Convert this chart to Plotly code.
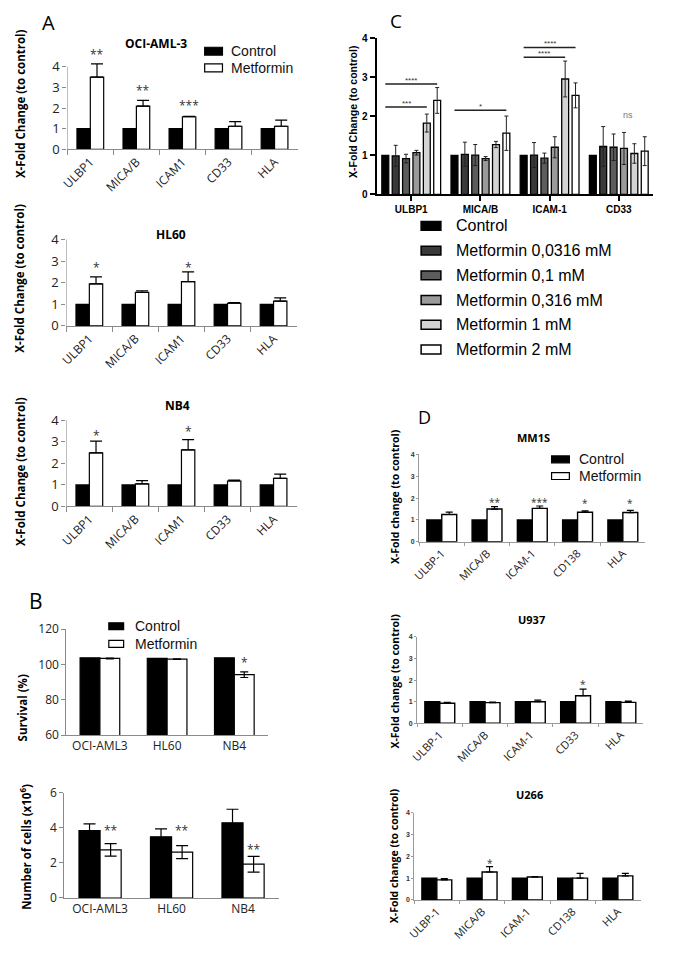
import plotly.graph_objects as go

W, H = 685, 958
OS = "Open Sans, sans-serif"
AR = "Liberation Sans, Arial, sans-serif"

# ---------------- Panel A data ----------------
a_cats = ["ULBP1", "MICA/B", "ICAM1", "CD33", "HLA"]
a_control = [1, 1, 1, 1, 1]
a_oci_met = [3.5, 2.1, 1.58, 1.12, 1.12]
a_oci_err = [0.65, 0.28, 0.02, 0.22, 0.30]
a_oci_sig = ["**", "**", "***", "", ""]
a_oci_sig_y = [4.76, 3.0, 2.29, 0, 0]
a_hl60_met = [1.95, 1.55, 2.05, 1.05, 1.15]
a_hl60_err = [0.32, 0.08, 0.45, 0.03, 0.15]
a_hl60_sig = ["*", "", "*", "", ""]
a_hl60_sig_y = [2.86, 0, 2.86, 0, 0]
a_nb4_met = [2.48, 1.05, 2.62, 1.18, 1.30]
a_nb4_err = [0.55, 0.15, 0.48, 0.04, 0.20]
a_nb4_sig = ["*", "", "*", "", ""]
a_nb4_sig_y = [3.43, 0, 3.63, 0, 0]
a_ticks = [0, 1, 2, 3, 4]

# ---------------- Panel B data ----------------
b_cats = ["OCI-AML3", "HL60", "NB4"]
b_surv_ctrl = [103.8, 103.4, 103.8]
b_surv_met = [103.4, 103.0, 94.2]
b_surv_met_err = [0.2, 0.2, 1.6]
b_surv_sig = ["", "", "*"]
b_surv_sig_y = [0, 0, 103.0]
b_cells_ctrl = [3.85, 3.50, 4.30]
b_cells_ctrl_err = [0.38, 0.45, 0.77]
b_cells_met = [2.75, 2.62, 1.93]
b_cells_met_err = [0.36, 0.37, 0.45]
b_cells_sig = ["**", "**", "**"]
b_cells_sig_y = [4.05, 4.05, 2.95]

# ---------------- Panel C data ----------------
c_cats = ["ULBP1", "MICA/B", "ICAM-1", "CD33"]
c_series = ["Control", "Metformin 0,0316 mM", "Metformin 0,1 mM",
            "Metformin 0,316 mM", "Metformin 1 mM", "Metformin 2 mM"]
c_colors = ["#000000", "#3a3a3a", "#5c5c5c", "#9a9a9a", "#d4d4d4", "#ffffff"]
c_values = [
    [1.0, 1.0, 1.0, 1.0],
    [0.99, 1.03, 1.01, 1.23],
    [0.92, 1.01, 0.93, 1.21],
    [1.07, 0.92, 1.21, 1.18],
    [1.83, 1.28, 2.96, 1.05],
    [2.41, 1.57, 2.54, 1.11],
]
c_errors = [
    [0, 0, 0, 0],
    [0.27, 0.31, 0.32, 0.51],
    [0.11, 0.27, 0.13, 0.34],
    [0.06, 0.05, 0.27, 0.41],
    [0.23, 0.08, 0.46, 0.25],
    [0.33, 0.44, 0.32, 0.37],
]
# significance brackets: (category index, from series, to series, y level, label)
c_sig_cat = [0, 0, 1, 2, 2]
c_sig_from = [0, 0, 0, 0, 0]
c_sig_to = [5, 4, 5, 5, 4]
c_sig_y = [2.83, 2.24, 2.16, 3.77, 3.52]
c_sig_txt = ["****", "***", "*", "****", "****"]

# ---------------- Panel D data ----------------
d_cats_mm1s = ["ULBP-1", "MICA/B", "ICAM-1", "CD138", "HLA"]
d_cats_u937 = ["ULBP-1", "MICA/B", "ICAM-1", "CD33", "HLA"]
d_cats_u266 = ["ULBP-1", "MICA/B", "ICAM-1", "CD138", "HLA"]
d_control = [1, 1, 1, 1, 1]
d_mm1s_met = [1.25, 1.50, 1.53, 1.35, 1.34]
d_mm1s_err = [0.11, 0.11, 0.11, 0.07, 0.10]
d_mm1s_sig = ["", "**", "***", "*", "*"]
d_mm1s_sig_y = [0, 1.97, 1.97, 1.92, 1.92]
d_u937_met = [0.93, 0.96, 1.00, 1.28, 0.97]
d_u937_err = [0.04, 0.02, 0.07, 0.30, 0.06]
d_u937_sig = ["", "", "", "*", ""]
d_u937_sig_y = [0, 0, 0, 1.97, 0]
d_u266_met = [0.92, 1.28, 1.05, 1.00, 1.10]
d_u266_err = [0.06, 0.25, 0.02, 0.22, 0.12]
d_u266_sig = ["", "*", "", "", ""]
d_u266_sig_y = [0, 1.83, 0, 0, 0]

# ---------------------------------------------------------------
def xd(l, r):
    return [l / W, r / W]


def yd(t, b):
    return [1 - b / H, 1 - t / H]


def px(x):
    return x / W


def py(y):
    return 1 - y / H


fig = go.Figure()
layout = dict(width=W, height=H, margin=dict(l=0, r=0, t=0, b=0),
              paper_bgcolor="white", plot_bgcolor="rgba(0,0,0,0)",
              showlegend=False, barmode="group")
annotations = []
shapes = []


def ax_name(n, letter):
    return f"{letter}axis" + ("" if n == 1 else str(n))


def ref(n, letter):
    return letter + ("" if n == 1 else str(n))


def add_axes(n, xdom, ydom, xopts, yopts):
    layout[ax_name(n, "x")] = dict(domain=xdom, anchor=ref(n, "y"), showgrid=False,
                                   zeroline=False, type="category", **xopts)
    layout[ax_name(n, "y")] = dict(domain=ydom, anchor=ref(n, "x"), showgrid=False,
                                   zeroline=False, **yopts)


def two_bars(n, cats, ctrl, met, met_err, w, ctrl_err=None, sym=False, cap=6, lw=1.2):
    fig.add_trace(go.Bar(x=cats, y=ctrl, offset=-w, width=w, xaxis=ref(n, "x"), yaxis=ref(n, "y"),
                         marker=dict(color="black", line=dict(color="black", width=lw)),
                         error_y=(dict(type="data", array=ctrl_err, visible=True, color="black",
                                       thickness=1.2, width=cap) if ctrl_err else None),
                         name="Control"))
    ey = dict(type="data", array=met_err, visible=True, color="black", thickness=1.2, width=cap)
    if not sym:
        ey["symmetric"] = False
        ey["arrayminus"] = [0] * len(met_err)
    fig.add_trace(go.Bar(x=cats, y=met, offset=0, width=w, xaxis=ref(n, "x"), yaxis=ref(n, "y"),
                         marker=dict(color="white", line=dict(color="black", width=lw)),
                         error_y=ey, name="Metformin"))


def stars(n, sig, sig_y, xoff, size=12):
    for i, (s, y) in enumerate(zip(sig, sig_y)):
        if s:
            annotations.append(dict(x=i + xoff, y=y, xref=ref(n, "x"), yref=ref(n, "y"),
                                    text=s, showarrow=False, yanchor="middle", yshift=-3,
                                    font=dict(family=OS, size=size, color="#333")))


def text(x, y, s, size, family=OS, bold=False, angle=0, xanchor="center", color="black"):
    annotations.append(dict(x=px(x), y=py(y), xref="paper", yref="paper", text=s,
                            showarrow=False, xanchor=xanchor, yanchor="middle",
                            textangle=angle,
                            font=dict(family=family, size=size, color=color,
                                      weight=("bold" if bold else "normal"))))


def legend_box(x0, x1, yc, h, fill, lw=1.2):
    shapes.append(dict(type="rect", xref="paper", yref="paper",
                       x0=px(x0), x1=px(x1), y0=py(yc + h / 2), y1=py(yc - h / 2),
                       fillcolor=fill, line=dict(color="black", width=lw)))


# ---------------- Panel A ----------------
GRAY = "#8a8a8a"
a_x = dict(showline=True, linecolor=GRAY, linewidth=1, ticks="outside", tickson="boundaries",
           ticklen=5, tickcolor=GRAY, tickangle=-45, range=[-0.5, 4.5],
           tickfont=dict(family=OS, size=12, color="#222"))
a_y = dict(showline=False, ticks="outside", ticklen=4, tickcolor=GRAY, range=[0, 5],
           tickvals=a_ticks, tickfont=dict(family=OS, size=13, color="#222"))
# range 0..5 so the tall error bar / stars are not clipped; 1 unit = 21 px
add_axes(1, xd(60, 293), yd(143 - 5 * 21, 143), a_x, a_y)
add_axes(2, xd(59, 292), yd(323 - 5 * 22, 323), a_x, a_y)
add_axes(3, xd(59, 292), yd(507 - 5 * 22, 507), a_x, a_y)
for n in (1, 2, 3):
    shapes.append(dict(type="line", xref=ref(n, "x"), yref=ref(n, "y"), x0=-0.5, x1=-0.5,
                       y0=0, y1=a_ticks[-1], line=dict(color=GRAY, width=1)))
two_bars(1, a_cats, a_control, a_oci_met, a_oci_err, 0.29)
two_bars(2, a_cats, a_control, a_hl60_met, a_hl60_err, 0.29)
two_bars(3, a_cats, a_control, a_nb4_met, a_nb4_err, 0.29)
stars(1, a_oci_sig, a_oci_sig_y, 0.145)
stars(2, a_hl60_sig, a_hl60_sig_y, 0.145)
stars(3, a_nb4_sig, a_nb4_sig_y, 0.145)
text(41, 14, "A", 20)
text(150, 35, "OCI-AML-3", 12, bold=True)
text(165, 230, "HL60", 12, bold=True)
text(171, 404, "NB4", 12, bold=True)
for yc in (96, 274, 471):
    text(12, yc, "X-Fold Change (to control)", 11.5, bold=True, angle=-90)
legend_box(199, 217, 43, 8, "black")
legend_box(199, 217, 60, 8, "white")
text(224, 43, "Control", 14, family=AR, xanchor="left", color="#111")
text(224, 60, "Metformin", 14, family=AR, xanchor="left", color="#111")

# ---------------- Panel B ----------------
b_x = dict(showline=True, linecolor=GRAY, linewidth=1, ticks="", range=[-0.5, 2.5],
           tickfont=dict(family=OS, size=12, color="#222"))
b_y1 = dict(showline=True, linecolor=GRAY, linewidth=1, ticks="outside", ticklen=4,
            tickcolor=GRAY, range=[60, 120], dtick=20, tickfont=dict(family=OS, size=12, color="#222"))
b_y2 = dict(showline=True, linecolor=GRAY, linewidth=1, ticks="outside", ticklen=4,
            tickcolor=GRAY, range=[0, 6], dtick=2, tickfont=dict(family=OS, size=12, color="#222"))
add_axes(4, xd(59, 263), yd(632, 740), b_x, b_y1)
add_axes(5, xd(57, 274), yd(799, 906), b_x, b_y2)
two_bars(4, b_cats, b_surv_ctrl, b_surv_met, b_surv_met_err, 0.295, sym=True, cap=4)
two_bars(5, b_cats, b_cells_ctrl, b_cells_met, b_cells_met_err, 0.295,
         ctrl_err=b_cells_ctrl_err, sym=True, cap=6)
stars(4, b_surv_sig, b_surv_sig_y, 0.1475)
stars(5, b_cells_sig, b_cells_sig_y, 0.1475)
text(28, 603, "B", 21)
text(15, 712, "Survival (%)", 11.5, bold=True, angle=-90)
text(18, 854, "Number of cells (x10<sup>6</sup>)", 11.5, bold=True, angle=-90)
legend_box(102, 117, 629, 7, "black")
legend_box(102, 117, 647, 7, "white")
text(126, 629, "Control", 14, family=AR, xanchor="left", color="#111")
text(126, 647, "Metformin", 14, family=AR, xanchor="left", color="#111")

# ---------------- Panel C ----------------
c_x = dict(showline=True, linecolor="black", linewidth=2, ticks="outside", ticklen=5,
           tickwidth=2, tickcolor="black", range=[-0.5, 3.5],
           tickfont=dict(family=AR, size=10, color="black", weight="bold"))
c_y = dict(showline=True, linecolor="black", linewidth=2, ticks="outside", ticklen=5,
           tickwidth=2, tickcolor="black", range=[0, 4], dtick=1,
           tickfont=dict(family=AR, size=10, color="black", weight="bold"))
add_axes(6, xd(373, 653), yd(30, 189), c_x, c_y)
slot = 0.15
bw = 0.10
for k, (nm, col, vals, errs) in enumerate(zip(c_series, c_colors, c_values, c_errors)):
    center = -0.375 + k * slot
    fig.add_trace(go.Bar(x=c_cats, y=vals, offset=center - bw / 2, width=bw,
                         xaxis="x6", yaxis="y6", name=nm,
                         marker=dict(color=col, line=dict(color="black", width=1.3)),
                         error_y=(dict(type="data", array=errs, visible=True, color="#222",
                                       thickness=1, width=2) if k > 0 else None)))
for cat, f, t, yv, s in zip(c_sig_cat, c_sig_from, c_sig_to, c_sig_y, c_sig_txt):
    x0 = cat - 0.375 + f * slot
    x1 = cat - 0.375 + t * slot
    shapes.append(dict(type="line", xref="x6", yref="y6", x0=x0, x1=x1, y0=yv, y1=yv,
                       line=dict(color="#222", width=1.5)))
    annotations.append(dict(x=(x0 + x1) / 2, y=yv, xref="x6", yref="y6", text=s,
                            showarrow=False, yanchor="bottom", yshift=-3,
                            font=dict(family=AR, size=8, color="#333")))
annotations.append(dict(x=3.14, y=2.03, xref="x6", yref="y6", text="ns", showarrow=False,
                        font=dict(family=AR, size=9, color="#777")))
text(393, 12, "C", 19)
text(349, 105, "X-Fold Change (to control)", 10.5, family=AR, bold=True, angle=-90)
for k, (nm, col) in enumerate(zip(c_series, c_colors)):
    yc = 221 + k * 25.2
    legend_box(418, 438, yc, 9, col, lw=1.5)
    text(451, yc, nm, 16, family=AR, xanchor="left")

# ---------------- Panel D ----------------
DG = "#9a9a9a"
d_x = dict(showline=True, linecolor=DG, linewidth=1, ticks="outside", tickson="boundaries",
           ticklen=3, tickcolor=DG, tickangle=-45, range=[-0.5, 4.5],
           tickfont=dict(family=OS, size=11, color="#222"))
d_y = dict(showline=True, linecolor=DG, linewidth=1, ticks="outside", ticklen=2,
           tickcolor=DG, range=[0, 4], dtick=1,
           tickfont=dict(family=AR, size=7, color="#333", weight="bold"))
add_axes(7, xd(416, 645), yd(454, 543), d_x, d_y)
add_axes(8, xd(414, 643), yd(640, 728), d_x, d_y)
add_axes(9, xd(411, 640), yd(819, 908), d_x, d_y)
two_bars(7, d_cats_mm1s, d_control, d_mm1s_met, d_mm1s_err, 0.33, cap=3.5, lw=1.4)
two_bars(8, d_cats_u937, d_control, d_u937_met, d_u937_err, 0.33, cap=3.5, lw=1.4)
two_bars(9, d_cats_u266, d_control, d_u266_met, d_u266_err, 0.33, cap=3.5, lw=1.4)
stars(7, d_mm1s_sig, d_mm1s_sig_y, 0.165, size=10)
stars(8, d_u937_sig, d_u937_sig_y, 0.165, size=10)
stars(9, d_u266_sig, d_u266_sig_y, 0.165, size=10)
text(421, 416, "D", 18)
text(532, 437, "MM1S", 11, bold=True)
text(530, 622, "U937", 11, bold=True)
text(528, 801, "U266", 11, bold=True)
for xc, yc in ((391, 497), (392, 685), (390, 863)):
    text(xc, yc, "X-Fold change (to control)", 10.5, bold=True, angle=-90)
legend_box(550, 568, 459, 7, "black")
legend_box(550, 568, 476, 7, "white")
text(576, 459, "Control", 14, family=AR, xanchor="left", color="#111")
text(576, 476, "Metformin", 14, family=AR, xanchor="left", color="#111")

layout["annotations"] = annotations
layout["shapes"] = shapes
fig.update_layout(**layout)
fig.write_html("out.html", config={"displayModeBar": False},
               post_script="document.body.style.margin='0';document.body.style.overflow='hidden';")
